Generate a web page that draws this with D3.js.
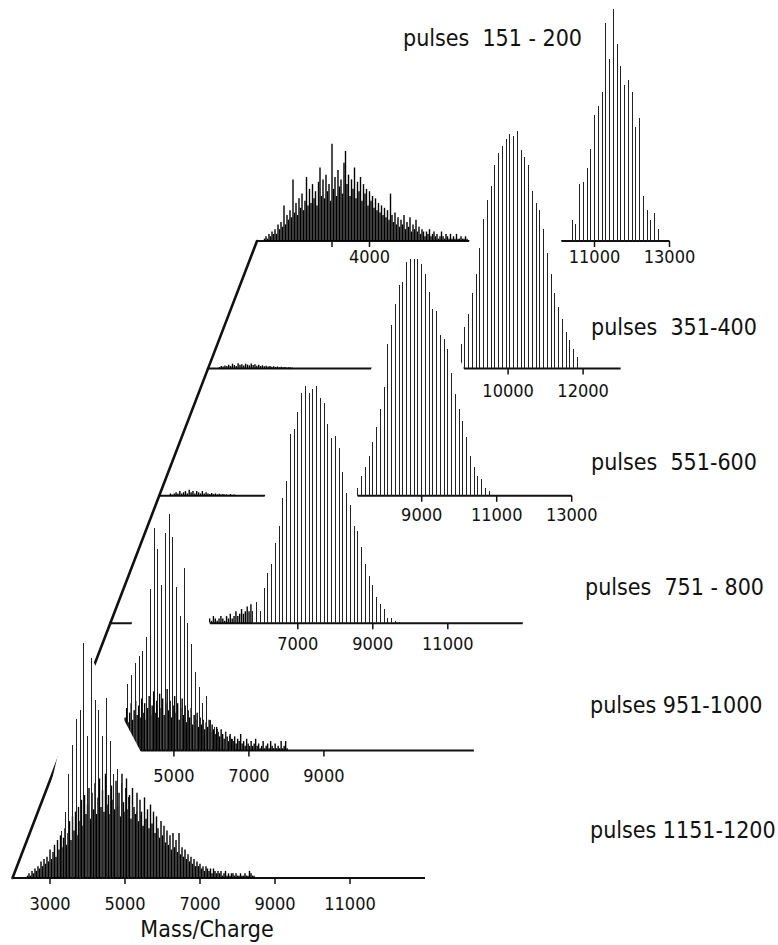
<!DOCTYPE html>
<html>
<head>
<meta charset="utf-8">
<script src="https://cdn.jsdelivr.net/npm/d3@7"></script>
<style>
  body { margin: 0; background: #fff; }
  text { font-family: "DejaVu Sans Condensed", "DejaVu Sans", sans-serif; fill: #111; white-space: pre; }
</style>
</head>
<body>
<div id="chart"></div>
<script>
// mass range shared by every trace
var massMin = 2000, massMax = 13000;
var peakStep = 100;   // spacing of the cluster series
var noiseStep = 40;   // spacing of the dense background sticks
var lowStep = 50;     // spacing of the weak baseline noise

// trace labels, front (bottom) to back (top)
var pulseLabels = ["pulses 1151-1200", "pulses 951-1000", "pulses  751 - 800",
                   "pulses  551-600", "pulses  351-400", "pulses  151 - 200"];

// pulses 1151-1200
var peaks1151Start = 3300;
var peaks1151 = [20, 28, 44, 56, 67, 71, 99, 60, 93, 75, 71, 60, 76, 58, 44, 46, 40, 38, 34, 31, 28, 26, 22];
var noise1151Start = 2400;
var noise1151 = [1, 2, 1, 3, 2, 4, 3, 5, 4, 7, 5, 8, 6, 9, 7, 12, 8, 11, 14, 9,
  16, 12, 18, 13, 17, 21, 14, 19, 24, 16, 26, 20, 28, 18, 30, 24, 33, 22, 35, 27,
  31, 38, 25, 36, 29, 40, 27, 34, 42, 30, 37, 28, 44, 31, 35, 27, 39, 33, 29, 41,
  30, 36, 26, 44, 32, 28, 42, 29, 35, 25, 38, 30, 27, 36, 24, 33, 28, 22, 34, 25,
  29, 21, 31, 23, 28, 19, 26, 21, 17, 24, 18, 22, 15, 20, 14, 18, 12, 19, 13, 16,
  11, 19, 10, 13, 9, 12, 8, 10, 7, 9, 6, 8, 5, 7, 5, 6, 4, 5, 3, 5,
  4, 3, 4, 2, 4, 3, 2, 3, 2, 3, 1, 2, 3, 1, 2, 1, 2, 2, 1, 2,
  1, 1, 2, 1, 1, 2, 1, 1, 3, 2, 1, 1];
var ticks1151 = [3000, 5000, 7000, 9000, 11000];
var tickText1151 = ["3000", "5000", "7000", "9000", "11000"];

// pulses 951-1000
var peaks951Start = 3770;
var peaks951 = [28, 32, 37, 40, 42, 48, 68, 94, 85, 70, 92, 100, 90, 69, 57, 77, 54, 45, 33, 27,
  20, 23, 13, 10, 9, 7, 8, 6, 5];
var noise951Start = 3700;
var noise951 = [14, 18, 12, 16, 20, 13, 17, 21, 15, 19, 14, 22, 16, 20, 13, 18, 23, 15, 19, 25,
  16, 21, 14, 24, 18, 22, 15, 20, 26, 17, 21, 14, 19, 23, 16, 20, 13, 18, 22, 15,
  19, 12, 17, 14, 18, 11, 15, 13, 16, 10, 14, 11, 13, 9, 12, 10, 13, 8, 11, 9,
  7, 10, 8, 6, 9, 7, 5, 8, 6, 4, 7, 5, 4, 6, 3, 5, 4, 7, 3, 4,
  2, 5, 3, 2, 4, 2, 3, 5, 2, 3, 1, 2, 4, 1, 2, 3, 1, 4, 2, 1,
  3, 1, 2, 1, 4, 1, 2, 4, 1];
var ticks951 = [5000, 7000, 9000];
var tickText951 = ["5000", "7000", "9000"];

// pulses 751-800
var peaks751Start = 5800;
var peaks751 = [5, 9, 5, 15, 21, 25, 34, 41, 53, 60, 80, 82, 89, 97, 100, 97, 99, 100, 95, 93,
  84, 78, 79, 74, 64, 55, 50, 41, 39, 32, 25, 20, 16, 11, 8, 6, 2, 2, 1, 0.5];
var low751Start = 4500;
var low751 = [1, 2, 1, 2, 1, 3, 2, 1, 2, 3, 2, 1, 3, 2, 4, 2, 3, 5, 3, 4, 6, 4, 5, 7, 5, 8];
var ticks751 = [7000, 9000, 11000];
var tickText751 = ["7000", "9000", "11000"];

// pulses 551-600
var peaks551Start = 7300;
var peaks551 = [3.5, 8.4, 12, 17, 22.5, 29, 36.6, 45.7, 64, 72, 81, 89, 90, 98.5, 100, 100, 100, 98, 93.5, 86,
  79, 78, 68, 66, 62, 52, 43, 36.6, 31.6, 24.6, 17, 12, 8.4, 7, 3.5, 2];
var low551Start = 2300;
var low551 = [1, 0.5, 1, 1.5, 1, 2, 1, 1.5, 2, 1, 2.5, 1.5, 2, 1, 2, 1.5, 1, 2, 1, 1.5,
  1, 0.8, 1.2, 0.7, 1, 0.6, 0.9, 0.5, 0.8, 0.5, 0.6, 0.4, 0.7, 0.4, 0.5, 0.3];
var ticks551 = [9000, 11000, 13000];
var tickText551 = ["9000", "11000", "13000"];

// pulses 351-400
var peaks351Start = 8750;
var peaks351 = [10.5, 17.6, 23, 32, 40, 51, 63, 71, 77, 86, 91, 94, 97, 99, 98, 100, 92, 89, 86, 75,
  70, 67, 59, 48.5, 40, 32, 26, 21, 15.5, 12, 8, 5];
var low351Start = 2300;
var low351 = [0.5, 1, 0.8, 1.2, 1, 1.5, 1, 2, 1.4, 1, 2.2, 1.5, 1.8, 1.2, 2, 1.6, 1.3, 2.1, 1.4, 1.7,
  1.1, 1.5, 1, 1.3, 0.9, 1.1, 0.8, 1, 0.7, 0.9, 0.6, 0.8, 0.5, 0.7, 0.5, 0.6, 0.4, 0.5, 0.4, 0.3];
var ticks351 = [10000, 12000];
var tickText351 = ["10000", "12000"];

// pulses 151-200
var peaks151Start = 10400;
var peaks151 = [9, 7, 24, 25, 31, 39, 53, 57, 63, 92, 77, 98, 83, 74, 66, 68, 63, 48, 52, 19, 13, 9, 12, 5];
var noise151Start = 2200;
var noise151 = [1, 2, 1, 3, 2, 4, 3, 5, 3, 7, 5, 8, 6, 15, 7, 11, 9, 13, 10, 26,
  12, 16, 11, 18, 14, 20, 13, 17, 27, 15, 22, 16, 24, 18, 21, 15, 25, 31, 19, 26,
  18, 28, 21, 24, 17, 41, 22, 27, 19, 30, 23, 26, 20, 33, 38, 24, 28, 19, 26, 22,
  31, 18, 25, 21, 27, 17, 24, 20, 22, 15, 21, 17, 19, 14, 18, 13, 16, 12, 15, 11,
  14, 10, 13, 9, 20, 11, 8, 12, 7, 10, 6, 9, 7, 11, 5, 8, 6, 10, 4, 7,
  5, 9, 4, 6, 3, 5, 4, 2, 4, 3, 5, 2, 3, 4, 2, 3, 1, 2, 4, 2,
  1, 3, 2, 1, 3, 1, 2, 1, 3, 1, 1, 2, 1, 1, 2, 1];
var ticks151 = [4000, 5000, 11000, 13000];
var tickText151 = ["", "4000", "11000", "13000"];

// ---------------------------------------------------------------
var W = 778, H = 945;
var svg = d3.select("#chart").append("svg").attr("width", W).attr("height", H)
  .style("background", "#fff");

var xScale = d3.scaleLinear().domain([massMin, massMax]).range([0, 412.5]);
var yScale = d3.scaleLinear().domain([0, 100]).range([0, 237]);
// trace origins sit on the slanted depth axis
var originX = d3.scaleLinear().domain([0, 5]).range([12.5, 257]);
var originY = d3.scaleLinear().domain([0, 5]).range([878, 241]);

function sticks(start, step, vals) {
  return vals.map(function (v, i) {
    return { x: xScale(start + i * step), h: yScale(v) };
  });
}

var traces = [
  { peaks: sticks(peaks1151Start, peakStep, peaks1151), noise: sticks(noise1151Start, noiseStep, noise1151), ticks: ticks1151, tickText: tickText1151 },
  { peaks: sticks(peaks951Start, peakStep, peaks951), noise: sticks(noise951Start, noiseStep, noise951), ticks: ticks951, tickText: tickText951 },
  { peaks: sticks(peaks751Start, peakStep, peaks751), noise: sticks(low751Start, lowStep, low751), ticks: ticks751, tickText: tickText751 },
  { peaks: sticks(peaks551Start, peakStep, peaks551), noise: sticks(low551Start, lowStep, low551), ticks: ticks551, tickText: tickText551 },
  { peaks: sticks(peaks351Start, peakStep, peaks351), noise: sticks(low351Start, lowStep, low351), ticks: ticks351, tickText: tickText351 },
  { peaks: sticks(peaks151Start, peakStep, peaks151), noise: sticks(noise151Start, noiseStep, noise151), ticks: ticks151, tickText: tickText151 }
];

// hidden line look: slopes of the horizon left / right of each stick
var occL = [4.3, 4.3, 2.8, 3, 3, 3];
var occR = [1.9, 2.7, 2.8, 2.5, 2.5, 2.5];
var labelDy = [32, 31, 27, 25, 29, 22];
var pulsePos = [[590, 838], [590, 713], [585, 595], [591, 470], [591, 335], [403, 46]];

function horizon(list, sL, sR) {
  var pts = [];
  var end = xScale(massMax);
  for (var px = 0; px <= end; px += 0.5) {
    var m = 0;
    for (var i = 0; i < list.length; i++) {
      var d = px - list[i].x;
      var v = d >= 0 ? list[i].h - sR * d : list[i].h + sL * d;
      if (v > m) m = v;
    }
    pts.push([px, m]);
  }
  return pts;
}

var area = d3.area().x(function (d) { return d[0]; }).y0(1).y1(function (d) { return -d[1]; });

// draw from the back trace to the front one
for (var k = 5; k >= 0; k--) {
  var t = traces[k];
  var g = svg.append("g").attr("transform", "translate(" + originX(k) + "," + originY(k) + ")");

  if (k < 5) {
    g.append("path").attr("d", area(horizon(t.noise.concat(t.peaks), occL[k], occR[k])))
      .attr("fill", "#fff").attr("stroke", "none");
  }

  g.append("line").attr("x1", 0).attr("x2", xScale(massMax)).attr("y1", 0).attr("y2", 0)
    .attr("stroke", "#111").attr("stroke-width", 2);

  g.selectAll(".tick").data(t.ticks).enter().append("line")
    .attr("x1", function (d) { return xScale(d); }).attr("x2", function (d) { return xScale(d); })
    .attr("y1", 0).attr("y2", 6).attr("stroke", "#111").attr("stroke-width", 1.5);

  g.selectAll(".noise").data(t.noise).enter().append("line")
    .attr("x1", function (d) { return d.x; }).attr("x2", function (d) { return d.x; })
    .attr("y1", 0).attr("y2", function (d) { return -d.h; })
    .attr("stroke", "#000").attr("stroke-width", 1.4);

  g.selectAll(".peak").data(t.peaks).enter().append("line")
    .attr("x1", function (d) { return d.x; }).attr("x2", function (d) { return d.x; })
    .attr("y1", 0).attr("y2", function (d) { return -d.h; })
    .attr("stroke", "#222").attr("stroke-width", 1)
    .attr("shape-rendering", "crispEdges");

  // depth axis piece leading to this trace, hidden by the traces in front
  if (k > 0) {
    svg.append("line")
      .attr("x1", originX(k - 1)).attr("y1", originY(k - 1))
      .attr("x2", originX(k)).attr("y2", originY(k))
      .attr("stroke", "#111").attr("stroke-width", 2.6).attr("stroke-linecap", "round");
  }
}

// tick labels
traces.forEach(function (t, k) {
  svg.selectAll(".tl" + k).data(t.ticks).enter().append("text")
    .attr("x", function (d) { return originX(k) + xScale(d); })
    .attr("y", originY(k) + labelDy[k])
    .attr("text-anchor", "middle").attr("font-size", 18)
    .text(function (d, i) { return t.tickText[i]; });
});

// trace names
svg.selectAll(".pl").data(pulseLabels).enter().append("text")
  .attr("x", function (d, i) { return pulsePos[i][0]; })
  .attr("y", function (d, i) { return pulsePos[i][1]; })
  .attr("font-size", 23)
  .text(function (d) { return d; });

svg.append("text").attr("x", 207).attr("y", 937).attr("text-anchor", "middle")
  .attr("font-size", 23).text("Mass/Charge");
</script>
</body>
</html>
